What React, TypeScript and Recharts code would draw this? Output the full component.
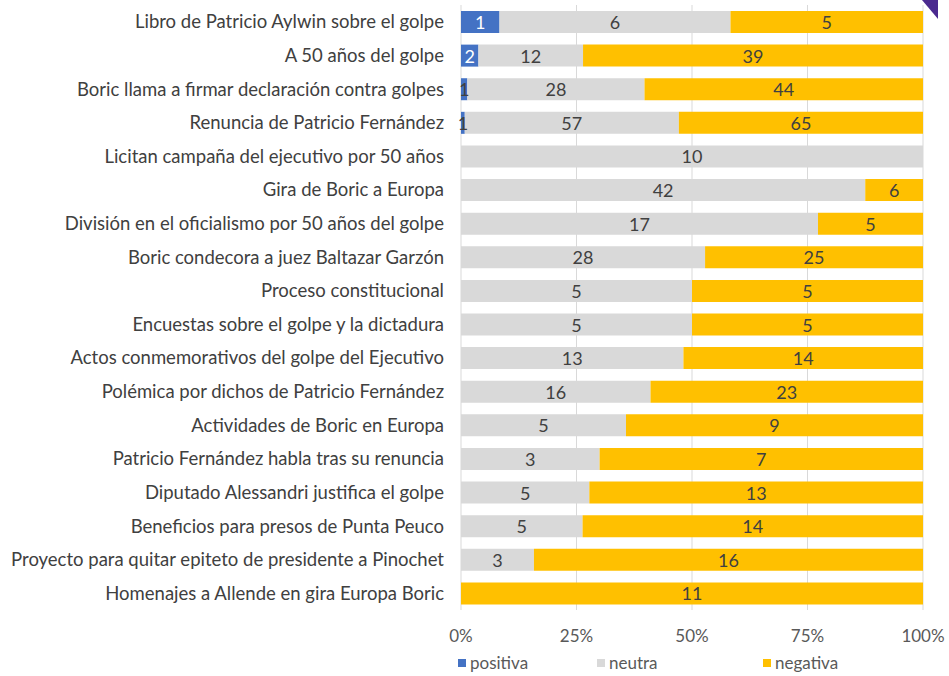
import { BarChart, Bar, XAxis, YAxis, CartesianGrid, LabelList } from "recharts";

const topics = [
  "Libro de Patricio Aylwin sobre el golpe",
  "A 50 años del golpe",
  "Boric llama a firmar declaración contra golpes",
  "Renuncia de Patricio Fernández",
  "Licitan campaña del ejecutivo por 50 años",
  "Gira de Boric a Europa",
  "División en el oficialismo por 50 años del golpe",
  "Boric condecora a juez Baltazar Garzón",
  "Proceso constitucional",
  "Encuestas sobre el golpe y la dictadura",
  "Actos conmemorativos del golpe del Ejecutivo",
  "Polémica por dichos de Patricio Fernández",
  "Actividades de Boric en Europa",
  "Patricio Fernández habla tras su renuncia",
  "Diputado Alessandri justifica el golpe",
  "Beneficios para presos de Punta Peuco",
  "Proyecto para quitar epiteto de presidente a Pinochet",
  "Homenajes a Allende en gira Europa Boric",
];
const positiva = [1, 2, 1, 1, 0, 0, 0, 0, 0, 0, 0, 0, 0, 0, 0, 0, 0, 0];
const neutra = [6, 12, 28, 57, 10, 42, 17, 28, 5, 5, 13, 16, 5, 3, 5, 5, 3, 0];
const negativa = [5, 39, 44, 65, 0, 6, 5, 25, 5, 5, 14, 23, 9, 7, 13, 14, 16, 11];
const pctTicks = [0, 0.25, 0.5, 0.75, 1];

const data = topics.map((name, i) => ({
  name,
  positiva: positiva[i],
  neutra: neutra[i],
  negativa: negativa[i],
}));

const FONT = "Lato, 'Open Sans', sans-serif";
const DARK = "#404040";

const series = [
  { key: "positiva", color: "#4472C4", text: "#ffffff" },
  { key: "neutra", color: "#D9D9D9", text: DARK },
  { key: "negativa", color: "#FFC000", text: DARK },
];

const makeLabel = (textColor: string) => (props: any) => {
  const { x, y, width, height, value } = props;
  if (!value) return null;
  const fill = width < 12 ? DARK : textColor;
  return (
    <text
      x={Number(x) + Number(width) / 2}
      y={Number(y) + Number(height) / 2}
      textAnchor="middle"
      dominantBaseline="central"
      fill={fill}
      fontSize={18}
      fontFamily={FONT}
    >
      {value}
    </text>
  );
};

// legend items sit at fixed x like the original
const legendX = [458, 597, 763];

export default function App() {
  return (
    <div style={{ position: "absolute", left: 0, top: 0, width: 949, height: 676, background: "#fff" }}>
      <BarChart
        width={949}
        height={676}
        data={data}
        layout="vertical"
        stackOffset="expand"
        barSize={22}
        margin={{ top: 5, right: 26, bottom: 26, left: 0 }}
      >
        <CartesianGrid horizontal={false} stroke="#D9D9D9" />
        <XAxis
          type="number"
          domain={[0, 1]}
          ticks={pctTicks}
          tickFormatter={(v: number) => `${Math.round(v * 100)}%`}
          axisLine={false}
          tickLine={false}
          tickSize={0}
          tickMargin={20}
          tick={{ fill: "#595959", fontSize: 17, fontFamily: FONT }}
          height={40}
        />
        <YAxis
          type="category"
          dataKey="name"
          width={461}
          axisLine={false}
          tickLine={false}
          tickSize={0}
          tickMargin={17}
          interval={0}
          tick={{ fill: DARK, fontSize: 18.5, fontFamily: FONT }}
        />
        {series.map((s) => (
          <Bar key={s.key} dataKey={s.key} stackId="a" fill={s.color} isAnimationActive={false}>
            <LabelList dataKey={s.key} content={makeLabel(s.text)} />
          </Bar>
        ))}
      </BarChart>
      {series.map((s, i) => (
        <div
          key={s.key}
          style={{
            position: "absolute",
            left: legendX[i],
            top: 652,
            display: "flex",
            alignItems: "center",
            fontFamily: FONT,
            fontSize: 17,
            color: "#595959",
          }}
        >
          <span style={{ width: 8, height: 8, background: s.color, marginRight: 4, display: "inline-block" }} />
          {s.key}
        </div>
      ))}
      <svg width={949} height={30} style={{ position: "absolute", left: 0, top: 0 }}>
        <polygon points="922,0 938,0 938,19" fill="#4B2A8F" />
      </svg>
    </div>
  );
}
